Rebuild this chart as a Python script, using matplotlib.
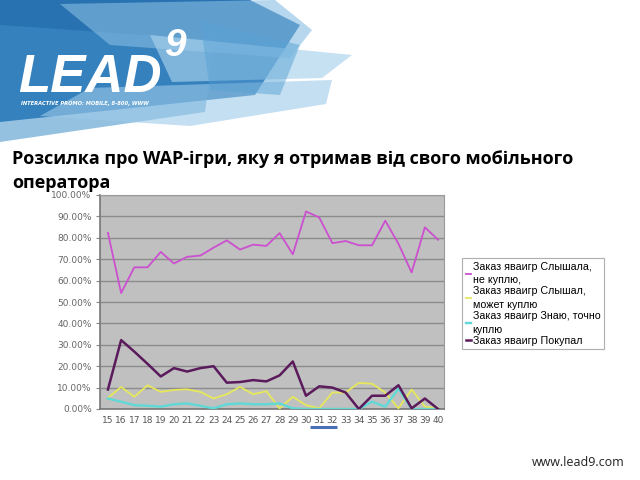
import matplotlib
matplotlib.use("Agg")
import matplotlib.pyplot as plt
from matplotlib.patches import Polygon
from matplotlib.ticker import FuncFormatter

# weeks on the x axis
weeks = ["15", "16", "17", "18", "19", "20", "21", "22", "23", "24", "25", "26", "27",
         "28", "29", "30", "31", "32", "33", "34", "35", "36", "37", "38", "39", "40"]

# share of answers, percent
heard_no = [82.3, 54.2, 66.2, 66.2, 73.4, 68.0, 71.1, 71.7, 75.4, 78.8, 74.5, 76.8, 76.2,
            82.2, 72.3, 92.3, 89.5, 77.5, 78.5, 76.5, 76.5, 88.0, 77.2, 63.8, 84.9, 79.1]
heard_maybe = [5.2, 10.3, 5.7, 11.1, 8.0, 8.9, 9.2, 8.0, 4.9, 6.9, 10.3, 6.9, 8.3,
               0.3, 5.7, 1.8, 0.3, 7.7, 7.7, 12.2, 11.8, 7.7, 0.3, 9.1, 1.1, 0.3]
know_buy = [4.9, 3.4, 1.8, 1.5, 1.1, 2.2, 2.6, 1.5, 0.3, 2.2, 2.6, 2.2, 2.2,
            2.6, 0.3, 0.0, 0.0, 0.0, 0.0, 0.0, 3.4, 1.1, 9.5, 0.0, 0.0, 0.0]
bought = [9.1, 32.2, 26.8, 21.1, 15.2, 19.1, 17.5, 19.1, 20.0, 12.3, 12.6, 13.5, 12.9,
          15.7, 22.2, 6.2, 10.6, 10.0, 7.7, 0.0, 6.2, 6.2, 11.1, 0.3, 4.9, 0.0]

labels = ["Заказ яваигр Слышала,\nне куплю,",
          "Заказ яваигр Слышал,\nможет куплю",
          "Заказ яваигр Знаю, точно\nкуплю",
          "Заказ яваигр Покупал"]
colors = ["#cc4fd0", "#e6e85a", "#5fd9d6", "#5a1a5c"]
widths = [1.3, 1.3, 1.7, 1.8]

title = "Розсилка про WAP-ігри, яку я отримав від свого мобільного\nоператора"

fig = plt.figure(figsize=(6.4, 4.8), dpi=100)

# slide decoration layer in pixel coordinates
bg = fig.add_axes([0, 0, 1, 1])
bg.set_xlim(0, 640)
bg.set_ylim(480, 0)
bg.axis("off")

shards = [
    ([(0, 0), (250, 0), (300, 25), (255, 95), (0, 122)], "#1d6aad", 0.95),
    ([(0, 25), (215, 40), (205, 112), (0, 142)], "#3f8fca", 0.55),
    ([(60, 4), (275, 0), (312, 30), (290, 58), (110, 45)], "#86bde2", 0.6),
    ([(150, 35), (352, 55), (322, 78), (172, 82)], "#a8d1ec", 0.65),
    ([(90, 88), (332, 80), (326, 104), (190, 126), (40, 116)], "#9dcbe8", 0.6),
    ([(200, 20), (300, 45), (280, 95), (210, 90)], "#5aa3d6", 0.5),
]
for pts, c, a in shards:
    bg.add_patch(Polygon(pts, closed=True, facecolor=c, edgecolor="none", alpha=a))

logo_font = ["Liberation Sans Narrow", "Liberation Sans", "DejaVu Sans"]
bg.text(18, 92, "LEAD", color="white", fontsize=38, fontweight="bold", style="italic",
        family=logo_font, va="baseline", ha="left")
bg.text(164, 56, "9", color="white", fontsize=28, fontweight="bold", style="italic",
        family=logo_font, va="baseline", ha="left")
bg.text(21, 104, "INTERACTIVE PROMO: MOBILE, 8-800, WWW", color="white", fontsize=3.7,
        fontweight="bold", style="italic", va="center", ha="left")

bg.plot([310, 337], [427, 427], color="#4a6fb5", lw=2.2, solid_capstyle="butt")

# title and footer sit above the chart, like on the slide
fig.text(12 / 640, 1 - 150 / 480, title, fontsize=13, fontweight="bold",
         family=["Open Sans", "DejaVu Sans"], va="top", ha="left", linespacing=1.45, zorder=10)
fig.text(578 / 640, 1 - 463 / 480, "www.lead9.com", fontsize=9, family=["Open Sans", "DejaVu Sans"],
         color="#222222", va="center", ha="center")

# chart
ax = fig.add_axes([100 / 640, 1 - 409 / 480, 344 / 640, 214 / 480])
ax.set_facecolor("#c0c0c0")
xs = list(range(len(weeks)))
for series, lab, c, w in zip([heard_no, heard_maybe, know_buy, bought], labels, colors, widths):
    ax.plot(xs, series, color=c, lw=w, label=lab, zorder=3)

ax.set_xlim(-0.6, len(weeks) - 0.55)
ax.set_ylim(0, 100)
ax.set_yticks([0, 10, 20, 30, 40, 50, 60, 70, 80, 90, 100])
ax.yaxis.set_major_formatter(FuncFormatter(lambda v, p: "%.2f%%" % v))
ax.set_xticks(xs)
ax.set_xticklabels(weeks)
ax.grid(axis="y", color="#8c8c8c", lw=1.0)
ax.set_axisbelow(True)
ax.tick_params(axis="x", length=0, labelsize=6.5, labelcolor="#555555", pad=5)
ax.tick_params(axis="y", length=3, color="#888888", labelsize=6.5, labelcolor="#666666", pad=3)
for side in ["top", "right"]:
    ax.spines[side].set_color("#9a9a9a")
for side in ["left", "bottom"]:
    ax.spines[side].set_color("#777777")
    ax.spines[side].set_linewidth(1.2)

leg = ax.legend(loc="upper left", bbox_to_anchor=(462 / 640, 1 - 258 / 480),
                bbox_transform=fig.transFigure, frameon=True, fancybox=False,
                prop={"family": "Liberation Sans", "size": 7.7}, handlelength=0.5,
                handletextpad=0.15, labelspacing=0.1, borderpad=0.35, borderaxespad=0)
for t in leg.get_texts():
    t.set_linespacing(1.45)
leg.get_frame().set_edgecolor("#9a9a9a")
leg.get_frame().set_linewidth(0.8)

fig.savefig("out.png", dpi=100)
